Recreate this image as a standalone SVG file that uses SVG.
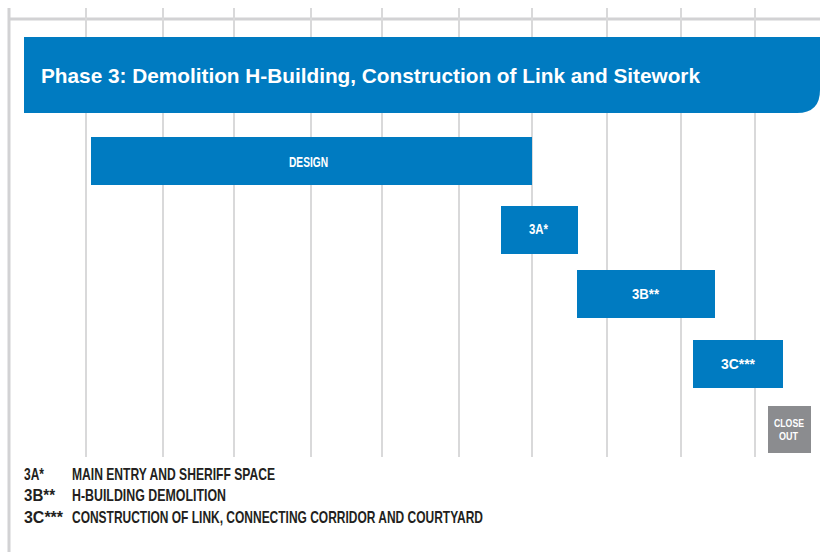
<svg xmlns="http://www.w3.org/2000/svg" width="820" height="556" viewBox="0 0 820 556">
<style>
.grid{stroke:#d9d9da;stroke-width:2;fill:none}
.frame{stroke:#d2d2d4;fill:none}
.bar{fill:#007bc1}
.gray{fill:#8b8c8f}
.lbl{font-family:"Liberation Sans",Arial,sans-serif;font-weight:bold;fill:#ffffff;text-anchor:middle}
.leg{font-family:"Liberation Sans",Arial,sans-serif;font-weight:bold;fill:#231f20;font-size:16.5px}
.title{font-family:"Liberation Sans",Arial,sans-serif;font-weight:bold;fill:#ffffff;font-size:20.5px}
</style>
<rect width="820" height="556" fill="#ffffff"/>
<g id="grid">
<line class="frame" x1="9" y1="8" x2="9" y2="552" stroke-width="3"/>
<line class="frame" x1="9" y1="19" x2="820" y2="19" stroke-width="3"/>
<line class="grid" x1="86" y1="8" x2="86" y2="457"/>
<line class="grid" x1="163" y1="8" x2="163" y2="457"/>
<line class="grid" x1="234" y1="8" x2="234" y2="457"/>
<line class="grid" x1="311" y1="8" x2="311" y2="457"/>
<line class="grid" x1="382" y1="8" x2="382" y2="457"/>
<line class="grid" x1="459" y1="8" x2="459" y2="457"/>
<line class="grid" x1="532" y1="8" x2="532" y2="457"/>
<line class="grid" x1="607" y1="8" x2="607" y2="457"/>
<line class="grid" x1="681" y1="8" x2="681" y2="457"/>
<line class="grid" x1="755" y1="8" x2="755" y2="457"/>
</g>
<g id="banner">
<path class="bar" d="M24 37 H820 V90 Q820 113 797 113 H24 Z"/>
<text class="title" x="41" y="83" textLength="659" lengthAdjust="spacingAndGlyphs">Phase 3: Demolition H-Building, Construction of Link and Sitework</text>
</g>
<g id="design">
<rect class="bar" x="91" y="137" width="441" height="48"/>
<text class="lbl" x="308.5" y="167" font-size="14" textLength="39" lengthAdjust="spacingAndGlyphs">DESIGN</text>
</g>
<g id="task3a">
<rect class="bar" x="501" y="206" width="77" height="48"/>
<text class="lbl" x="538.5" y="234" font-size="15" textLength="19" lengthAdjust="spacingAndGlyphs">3A*</text>
</g>
<g id="task3b">
<rect class="bar" x="577" y="270" width="138" height="48"/>
<text class="lbl" x="645.5" y="299" font-size="15" textLength="27" lengthAdjust="spacingAndGlyphs">3B**</text>
</g>
<g id="task3c">
<rect class="bar" x="693" y="340" width="90" height="48"/>
<text class="lbl" x="738" y="369" font-size="15" textLength="34" lengthAdjust="spacingAndGlyphs">3C***</text>
</g>
<g id="closeout">
<rect class="gray" x="768" y="406" width="43" height="47"/>
<text class="lbl" x="789" y="426.5" font-size="11.5" textLength="30" lengthAdjust="spacingAndGlyphs">CLOSE</text>
<text class="lbl" x="788.5" y="440" font-size="11.5" textLength="19" lengthAdjust="spacingAndGlyphs">OUT</text>
</g>
<g id="legend">
<text class="leg" x="24" y="480" textLength="20" lengthAdjust="spacingAndGlyphs">3A*</text>
<text class="leg" x="72" y="480" textLength="203" lengthAdjust="spacingAndGlyphs">MAIN ENTRY AND SHERIFF SPACE</text>
<text class="leg" x="24" y="501" textLength="31" lengthAdjust="spacingAndGlyphs">3B**</text>
<text class="leg" x="72" y="501" textLength="154" lengthAdjust="spacingAndGlyphs">H-BUILDING DEMOLITION</text>
<text class="leg" x="24" y="523" textLength="39" lengthAdjust="spacingAndGlyphs">3C***</text>
<text class="leg" x="72" y="523" textLength="411" lengthAdjust="spacingAndGlyphs">CONSTRUCTION OF LINK, CONNECTING CORRIDOR AND COURTYARD</text>
</g>
</svg>
